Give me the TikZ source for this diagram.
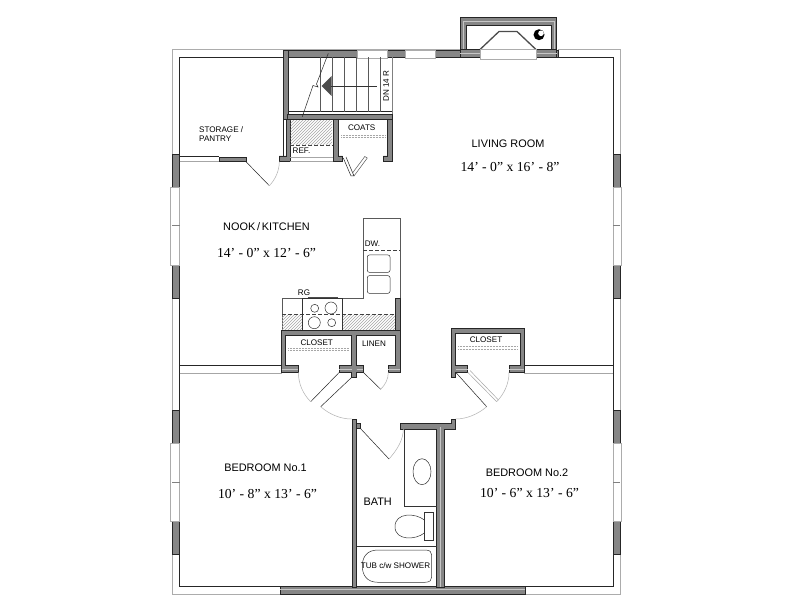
\documentclass[tikz,border=0pt]{standalone}
\usepackage{fontspec}
\setmainfont{Liberation Sans}
\newfontfamily\dimfont{Liberation Serif}
\usetikzlibrary{patterns}

\begin{document}
\begin{tikzpicture}[x=1pt, y=-1pt,
wall/.style={draw=black!85, fill=gray!95, line width=0.6pt},
core/.style={draw=gray!45, line width=0.9pt},
shell/.style={draw=gray!65, line width=1pt},
inner/.style={draw=black!85, line width=0.7pt},
glass/.style={draw=gray!65, fill=white, line width=0.9pt},
fixture/.style={draw=black!80, line width=0.5pt},
leaf/.style={draw=black!85, line width=0.5pt},
swing/.style={draw=gray!60, line width=0.5pt},
overhead/.style={draw=black!75, line width=0.5pt, dash pattern=on 3.5pt off 2.5pt},
rail/.style={draw=gray!70, line width=0.5pt, densely dotted},
hatch/.style={pattern=north east lines, pattern color=gray!70},
room/.style={font=\fontsize{10.9}{12}\selectfont, inner sep=0pt},
dim/.style={font=\fontsize{13.7}{15}\selectfont\dimfont, inner sep=0pt},
tag/.style={font=\fontsize{8.1}{9.5}\selectfont, inner sep=0pt}]

\useasboundingbox (0,0) rectangle (792,612);
\fill[white] (0,0) rectangle (792,612);

% OUTER SHELL
\draw[shell] (172,50) -- (620,50) -- (620,594) -- (172,594) -- cycle;
\draw[inner] (179.5,57.3) -- (613,57.3) -- (613,586.7) -- (179.5,586.7) -- cycle;

% north wall pieces
\fill[white] (460,49) rectangle (558,57);
\draw[wall] (283,50) rectangle (357,57.3);
\draw[wall] (387,50) rectangle (405,57.3);
\draw[wall] (435,50) rectangle (480,57.3);
\draw[wall] (536,50) rectangle (558,57.3);
\draw[glass] (357,50) rectangle (387,58);
\draw[glass] (405,50) rectangle (435,58);

% side windows
\foreach \ytop in {154,410}{
    \draw[wall] (172,\ytop) rectangle (179.5,\ytop+33);
    \draw[wall] (172,\ytop+111) rectangle (179.5,\ytop+144);
    \draw[glass] (170.5,\ytop+33) rectangle (179.5,\ytop+111);
    \draw[draw=gray, line width=1pt] (172,\ytop+72) -- (179.5,\ytop+72);
    \draw[wall] (613,\ytop) rectangle (620,\ytop+33);
    \draw[wall] (613,\ytop+111) rectangle (620,\ytop+144);
    \draw[glass] (613,\ytop+33) rectangle (621.7,\ytop+111);
    \draw[draw=gray, line width=1pt] (613,\ytop+72) -- (620,\ytop+72);
}

% south wall
\draw[wall] (280,586.7) rectangle (525,594);
\draw[core] (280,589) -- (525,589);

% FIREPLACE
\draw[wall] (460,50) -- (460,17.3) -- (556.7,17.3) -- (556.7,50) -- (551.7,50) -- (551.7,25.3) -- (466.7,25.3) -- (466.7,50) -- cycle;
\draw[core] (463.4,50) -- (463.4,21.3) -- (554.2,21.3) -- (554.2,50);
\draw[inner, line width=1pt] (466.7,49.5) -- (466.7,25.3) -- (551.7,25.3) -- (551.7,49.5);
\draw[wall] (460,49.5) rectangle (480,57.3);
\draw[wall] (536,49.5) rectangle (556.7,57.3);
\draw[core] (460,53) -- (480,53) (536,53) -- (556.7,53);
\draw[draw=gray!60!black, line width=1.3pt] (480,49.5) -- (499,31.5) -- (517,31.5) -- (536,49.5);
\draw[glass] (480,49.5) rectangle (536,59);
\fill[black] (539,34.7) circle (5.5);
\fill[white] (541,33.3) circle (2.8);

% STAIR
\draw[wall] (283,50) rectangle (288.3,119);
\draw[wall] (287,114) rectangle (392,119.3);
\draw[inner] (288,111.7) -- (392,111.7);
\draw[draw=gray, line width=0.5pt] (392,57.3) -- (392,114);
\foreach \xtread in {320,332,344,356,368,380}{
    \draw[draw=gray!70!black, line width=0.5pt] (\xtread,57.3) -- (\xtread,111.7);
}
\fill[black!70] (321.7,86) -- (331.7,76) -- (331.7,96) -- cycle;
\draw[fixture] (331,86) -- (377,86);
\draw[leaf] (328.3,53.3) -- (316.5,84) -- (318,87) -- (313,85.5) -- (302.3,116.7);
\node[tag, rotate=90] (stairtag) at (386,86) {DN 14 R};

% REF AND COATS
\draw[wall] (286.5,119) -- (286.5,156) -- (279,156) -- (279,161.7) -- (290,161.7) -- (290,119) -- cycle;
\draw[wall] (333.3,119) -- (333.3,161.7) -- (342.7,161.7) -- (342.7,156) -- (338.3,156) -- (338.3,119) -- cycle;
\draw[wall] (392,119) -- (392,161.7) -- (383.3,161.7) -- (383.3,156) -- (387.3,156) -- (387.3,119) -- cycle;
\fill[hatch] (290.7,120.7) rectangle (332,145);
\draw[overhead] (290,145) -- (333,145);
\draw[draw=gray!70, line width=0.7pt] (290,157.7) -- (333,157.7) (290,161.7) -- (333,161.7);
\node[tag, anchor=west] (reftag) at (292.5,150.7) {REF.};
\node[tag] (coatstag) at (361.7,127.7) {COATS};
\draw[rail] (341,135.3) -- (386,135.3) (341,137.7) -- (386,137.7);
% bifold
\draw[leaf] (343.3,158) -- (351,176) -- (354,176) -- (346,157);
\draw[draw=gray!70!black, line width=0.5pt] (354,176) -- (367.3,158) -- (364.8,156.5) -- (352.5,173);

% PANTRY PARTITION
\draw[draw=black!85, line width=0.6pt] (179.5,156.7) -- (219.3,156.7);
\draw[draw=gray!70, line width=0.8pt] (179.5,161.7) -- (219.3,161.7);
\draw[wall] (219.3,157) rectangle (246,161.7);
\draw[leaf] (246,161.7) -- (269.3,185.7);
\draw[swing] (269.3,185.7) .. controls (275,180) and (279.3,171) .. (279.3,161.7);
\draw[inner] (283,57.3) -- (283,156);
\node[tag, anchor=west] (storagetag) at (199,130) {STORAGE /};
\node[tag, anchor=west] (pantrytag) at (199,139) {PANTRY};

% PARTITIONS
\draw[inner] (179.5,365) -- (282,365);
\draw[draw=gray!70, line width=0.8pt] (179.5,373) -- (282,373);
\draw[inner] (524,365) -- (613,365);
\draw[draw=gray!70, line width=0.8pt] (524,373) -- (613,373);

% KITCHEN
\draw[draw=gray!70!black, line width=0.6pt] (282,330) -- (282,298.3) -- (363.3,298.3) -- (363.3,218.3) -- (400,218.3) -- (400,298);
\fill[hatch] (282,314.3) rectangle (302.3,330);
\fill[hatch] (342.3,314.3) rectangle (395.3,330);
\draw[overhead] (282,314.3) -- (395.3,314.3);
\draw[overhead] (363.3,250) -- (400,250);
\draw[fixture] (302.3,298.3) rectangle (342.3,330);
\draw[draw=black!70, line width=1.4pt] (307.7,297.6) -- (337.7,297.6);
\foreach \xb/\yb/\rb in {314.7/308.3/4,331/308/6,314.3/322.7/6,331.7/322.7/4}{
    \draw[fixture] (\xb,\yb) circle (\rb);
}
\foreach \ysink/\hsink in {255/17.3,275.7/17.6}{
    \draw[fixture, rounded corners=2pt] (367.3,\ysink) rectangle (390,\ysink+\hsink);
}
\draw[wall] (395.5,298) rectangle (400,330);
\node[tag] (rgtag) at (304,293) {RG};
\node[tag] (dwtag) at (372.5,243.3) {DW.};

% CLOSETS
\draw[wall] (281.7,330) -- (400,330) -- (400,372.3) -- (388.3,372.3) -- (388.3,365.7) -- (395.7,365.7) -- (395.7,335)
    -- (356.7,335) -- (356.7,365.7) -- (363.3,365.7) -- (363.3,372.3) -- (356.7,372.3) -- (356.7,377.3) -- (351.7,377.3)
    -- (351.7,372.3) -- (339.3,372.3) -- (339.3,365.7) -- (351.7,365.7) -- (351.7,335) -- (285.7,335) -- (285.7,365.7)
    -- (298.3,365.7) -- (298.3,372.3) -- (281.7,372.3) -- cycle;
\draw[wall] (451.7,328.3) -- (524,328.3) -- (524,372.3) -- (509,372.3) -- (509,365.7) -- (520,365.7) -- (520,333.3)
    -- (455.7,333.3) -- (455.7,365.7) -- (467.7,365.7) -- (467.7,372.3) -- (455.7,372.3) -- (455.7,377.3) -- (451.7,377.3) -- cycle;
\foreach \xa/\xb in {281.7/298.3,339.3/351.7,356.7/363.3,388.3/400,455.7/467.7,509/524}{
    \draw[draw=gray!45, line width=0.8pt] (\xa,369) -- (\xb,369);
}
\draw[rail] (288.3,348.3) -- (349.3,348.3) (288.3,350) -- (349.3,350);
\draw[rail] (458,346.7) -- (518,346.7) (458,349.7) -- (518,349.7);
\node[tag] (closetleft) at (316.7,342.3) {CLOSET};
\node[tag] (linentag) at (374,343.3) {LINEN};
\node[tag] (closetright) at (486,339.3) {CLOSET};

% doors
\draw[leaf] (339.3,372.3) -- (310.7,401.7);
\draw[swing] (298.3,372.3) .. controls (298.5,384) and (303,394) .. (310.7,401.7);
\draw[leaf] (351.7,377.3) -- (320.7,406.7);
\draw[swing] (320.7,406.7) .. controls (329,414) and (340,419) .. (351.7,419);
\draw[leaf] (363.3,372.3) -- (380.7,389.3);
\draw[swing] (380.7,389.3) .. controls (385.5,384.5) and (388.3,379) .. (388.3,372.3);
\draw[draw=gray!70, line width=0.5pt] (467.7,372.3) -- (496.7,401.7) (470,370.5) -- (498.5,400);
\draw[swing] (496.7,401.7) .. controls (504,394) and (509,384) .. (509,372.3);
\draw[leaf] (455.7,372.3) -- (486.7,406.7);
\draw[swing] (486.7,406.7) .. controls (478,414) and (467,419) .. (455.7,419);

% BATH
\draw[wall] (352,419) rectangle (356.7,587);
\draw[wall] (356.7,423.5) rectangle (360,428.5);
\draw[wall] (400.7,423.3) -- (451,423.3) -- (451,419) -- (455.7,419) -- (455.7,429) -- (444.5,429) -- (444.5,587) -- (436.7,587)
    -- (436.7,429) -- (400.7,429) -- cycle;
\draw[core] (440.6,427) -- (440.6,587);
\draw[leaf] (360,428) -- (389,459);
\draw[swing] (389,459) .. controls (397,450) and (403.3,440) .. (403.3,429);
\draw[fixture] (404.3,429) -- (404.3,506) -- (436.7,506);
\draw[fixture] (422,471.7) ellipse (9 and 13);
\draw[fixture] (424.3,512.3) rectangle (433.7,540);
\draw[fixture] (424.3,520) .. controls (416,513) and (395,512) .. (395,526.7) .. controls (395,541) and (416,540) .. (424.3,533);
\draw[fixture] (356.7,546) -- (436.7,546);
\draw[fixture] (425,550) -- (378,550) .. controls (366,550) and (362.3,558) .. (362.3,566) .. controls (362.3,574) and (366,582.3) .. (378,582.3)
    -- (425,582.3) .. controls (430,582.3) and (431.7,580) .. (431.7,577) -- (431.7,555) .. controls (431.7,552) and (430,550) .. (425,550);
\draw[inner] (356.7,586.7) -- (436.7,586.7);
\node[room] (bathtag) at (377.7,501.7) {BATH};
\node[tag] (tubtag) at (395.5,566) {TUB c/w SHOWER};

% ROOM NAMES
\node[room] (livingname) at (508,143.3) {LIVING ROOM};
\node[dim] (livingdim) at (510,167.3) {14’ - 0” x 16’ - 8”};
\node[room] (nookname) at (266.5,227) {NOOK\,/\,KITCHEN};
\node[dim] (nookdim) at (266.5,253) {14’ - 0” x 12’ - 6”};
\node[room] (bedonename) at (265.5,468) {BEDROOM No.1};
\node[dim] (bedonedim) at (267.5,494) {10’ - 8” x 13’ - 6”};
\node[room] (bedtwoname) at (527,473) {BEDROOM No.2};
\node[dim] (bedtwodim) at (529.5,493) {10’ - 6” x 13’ - 6”};

\end{tikzpicture}
\end{document}
